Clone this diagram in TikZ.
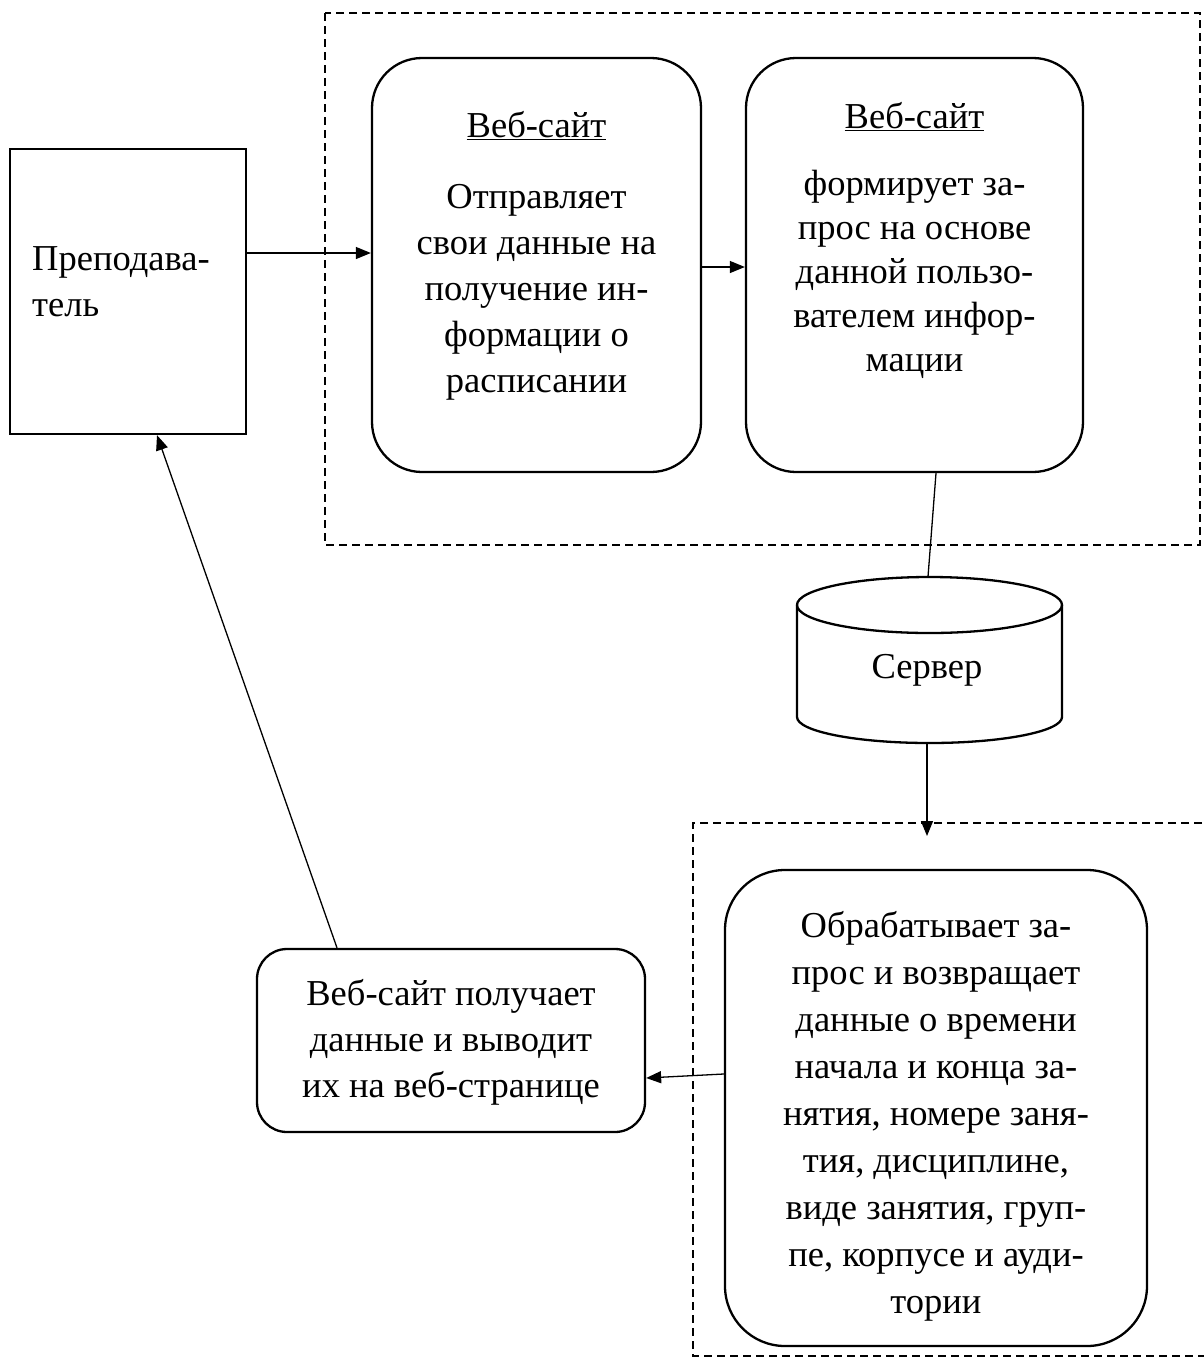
\documentclass[tikz,border=0pt]{standalone}
\usepackage{fontspec}
\setmainfont{Liberation Serif}
\usetikzlibrary{arrows.meta}
\begin{document}
\begin{tikzpicture}[x=1pt,y=-1pt,
  box/.style={draw, line width=2.3pt, rectangle, inner sep=0pt, fill=white},
  rbox/.style={box, rounded corners=#1},
  zone/.style={draw, line width=2.2pt, dash pattern=on 8pt off 5pt},
  conn/.style={line width=1.3pt},
  arr/.style={conn, -{Triangle[length=15pt,width=12pt]}},
  txt/.style={inner sep=0pt, anchor=base, font=\fontsize{36.5}{46}\selectfont},
]
\useasboundingbox (0,0) rectangle (1204,1358);

% dashed zones
\draw[zone] (325,13) rectangle (1200,545);
\draw[zone] (1215,823) -- (693,823) -- (693,1356) -- (1215,1356);

% boxes
\node[box, minimum width=236, minimum height=285] (teacher) at (128,291.5) {};
\node[rbox=50pt, minimum width=329, minimum height=414] (send) at (536.5,265) {};
\node[rbox=50pt, minimum width=337, minimum height=414] (form) at (914.5,265) {};
\node[rbox=60pt, minimum width=422, minimum height=476] (proc) at (936,1108) {};
\node[rbox=30pt, minimum width=388, minimum height=183] (show) at (451,1040.5) {};

% server cylinder
\node[inner sep=0pt, minimum width=265, minimum height=166] (server) at (929.5,660) {};
\draw[line width=2.3pt, fill=white] (797,605) -- (797,717)
  arc[start angle=180, end angle=360, x radius=132.5pt, y radius=26pt]
  -- (1062,605)
  arc[start angle=0, end angle=180, x radius=132.5pt, y radius=28pt] -- cycle;
\draw[line width=2.3pt] (797,605)
  arc[start angle=180, end angle=360, x radius=132.5pt, y radius=28pt];

% texts
\node[txt, anchor=base west] (teachertext) at (32,270)
  {\begin{tabular}[t]{@{}l@{}}Преподава-\\тель\end{tabular}};
\node[txt] (sendtext) at (536.5,137)
  {\begin{tabular}[t]{@{}c@{}}\underline{Веб-сайт}\\[25pt]Отправляет\\свои данные на\\получение ин-\\формации о\\расписании\end{tabular}};
\node[txt, font=\fontsize{36.5}{44}\selectfont] (formtext) at (914.5,128)
  {\begin{tabular}[t]{@{}c@{}}\underline{Веб-сайт}\\[23pt]формирует за-\\прос на основе\\данной пользо-\\вателем инфор-\\мации\end{tabular}};
\node[txt] (servertext) at (927,678) {Сервер};
\node[txt, font=\fontsize{36.5}{47}\selectfont] (proctext) at (936,937)
  {\begin{tabular}[t]{@{}c@{}}Обрабатывает за-\\прос и возвращает\\данные о времени\\начала и конца за-\\нятия, номере заня-\\тия, дисциплине,\\виде занятия, груп-\\пе, корпусе и ауди-\\тории\end{tabular}};
\node[txt] (showtext) at (451,1005)
  {\begin{tabular}[t]{@{}c@{}}Веб-сайт получает\\данные и выводит\\их на веб-странице\end{tabular}};

% connectors
\coordinate (zonetip) at (927,836);
\draw[arr] ([yshift=38.5pt]teacher.east) -- ([yshift=12pt]send.west);
\draw[arr] ([yshift=-2pt]send.east) -- ([yshift=-2pt]form.west);
\draw[conn] ([xshift=21.5pt]form.south) -- ([xshift=-1.5pt]server.north);
\draw[arr] ([xshift=-2.5pt]server.south) -- (zonetip);
\draw[arr] ([yshift=34pt]proc.west) -- ([yshift=-37.5pt]show.east);
\draw[arr] ([xshift=-114pt]show.north) -- ([xshift=29pt]teacher.south);
\end{tikzpicture}
\end{document}
